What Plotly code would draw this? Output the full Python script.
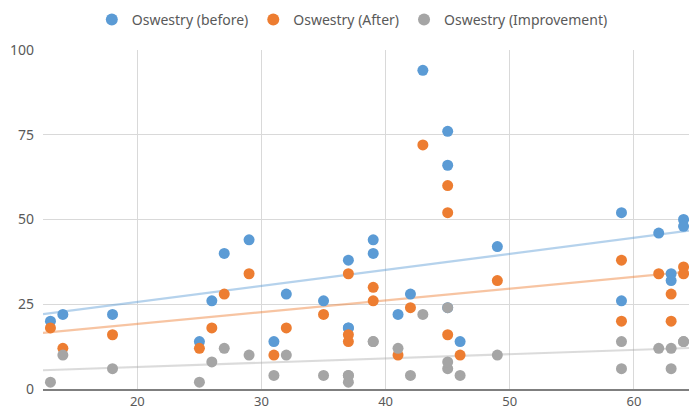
import numpy as np
import plotly.graph_objects as go

ages = [13, 14, 18, 25, 26, 27, 29, 31, 32, 35, 37, 37, 37, 39, 39, 41, 42, 43,
        45, 45, 45, 46, 49, 59, 59, 62, 63, 63, 64, 64]
before = [20, 22, 22, 14, 26, 40, 44, 14, 28, 26, 38, 18, 18, 44, 40, 22, 28, 94,
          76, 66, 24, 14, 42, 52, 26, 46, 34, 32, 50, 48]
after = [18, 12, 16, 12, 18, 28, 34, 10, 18, 22, 34, 16, 14, 30, 26, 10, 24, 72,
         52, 60, 16, 10, 32, 38, 20, 34, 28, 20, 36, 34]
improvement = [2, 10, 6, 2, 8, 12, 10, 4, 10, 4, 4, 2, 4, 14, 14, 12, 4, 22,
               24, 6, 8, 4, 10, 14, 6, 12, 6, 12, 14, 14]

series_names = ["Oswestry (before)", "Oswestry (After)", "Oswestry (Improvement)"]
series_values = [before, after, improvement]
colors = ["#5B9BD5", "#ED7D31", "#A5A5A5"]
trend_colors = ["rgba(91,155,213,0.45)", "rgba(237,125,49,0.45)", "rgba(165,165,165,0.4)"]

x_range = [12.4, 64.6]

fig = go.Figure()

for vals, tc in zip(series_values, trend_colors):
    slope, intercept = np.polyfit(ages, vals, 1)
    xs = np.array(x_range)
    fig.add_trace(go.Scatter(x=xs, y=slope * xs + intercept, mode="lines",
                             line=dict(color=tc, width=2.2), showlegend=False,
                             hoverinfo="skip"))

for name, vals, c in zip(series_names, series_values, colors):
    fig.add_trace(go.Scatter(x=ages, y=vals, mode="markers", name=name,
                             marker=dict(color=c, size=11, line=dict(width=0)),
                             cliponaxis=False))

fig.update_layout(
    width=697, height=410,
    margin=dict(l=35, r=14, t=42, b=29, autoexpand=False),
    paper_bgcolor="white", plot_bgcolor="white",
    font=dict(family="Noto Sans, Open Sans, sans-serif", size=13, color="#595959"),
    legend=dict(orientation="h", xref="container", x=0.494, xanchor="center",
                yref="container", y=1 - 12 / 410, yanchor="middle",
                font=dict(size=14, color="#595959"), itemsizing="constant"),
    showlegend=True,
)
fig.update_xaxes(range=x_range, tickvals=[20, 30, 40, 50, 60], showgrid=True,
                 gridcolor="#D9D9D9", gridwidth=1, zeroline=False,
                 showline=True, linecolor="#7F7F7F", linewidth=1.5,
                 ticks="", ticklabelstandoff=0, tickfont=dict(size=13))
fig.update_yaxes(range=[0, 100], tickvals=[0, 25, 50, 75, 100], showgrid=True,
                 gridcolor="#D9D9D9", gridwidth=1, zeroline=False, showline=False,
                 ticks="", ticklabelstandoff=8, tickfont=dict(size=14))

fig.write_html("out.html")
